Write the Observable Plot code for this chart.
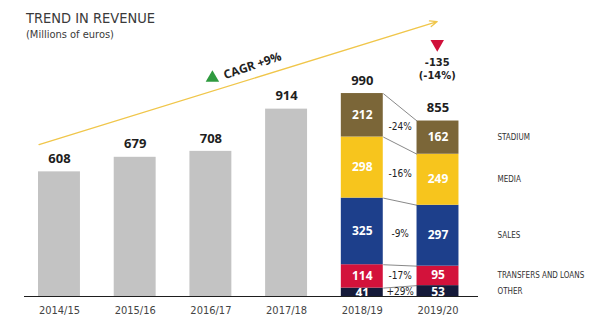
<!DOCTYPE html>
<html>
<head>
<meta charset="utf-8">
<script src="https://cdn.jsdelivr.net/npm/d3@7"></script>
<script src="https://cdn.jsdelivr.net/npm/@observablehq/plot@0.6"></script>
<style>
  html, body { margin: 0; padding: 0; background: #fff; }
  #wrap { position: relative; width: 600px; height: 330px; overflow: hidden; }
  #title { position: absolute; left: 26px; top: 11px; font-family: "Liberation Sans Narrow", "DejaVu Sans Condensed", sans-serif; font-size: 14.5px; color: #3a3a3a; line-height: 1; }
  #subtitle { position: absolute; left: 26px; top: 29px; font-family: "Liberation Sans Narrow", "DejaVu Sans Condensed", sans-serif; font-size: 11px; color: #3a3a3a; line-height: 1; }
  #chart { position: absolute; left: 0; top: 0; }
</style>
</head>
<body>
<div id="wrap">
  <div id="chart"></div>
  <div id="title">TREND IN REVENUE</div>
  <div id="subtitle">(Millions of euros)</div>
</div>
<script>
// ---- data ----
const seasons = ["2014/15", "2015/16", "2016/17", "2017/18", "2018/19", "2019/20"];
const totals = [608, 679, 708, 914, 990, 855];
const categories = ["OTHER", "TRANSFERS AND LOANS", "SALES", "MEDIA", "STADIUM"];
const revenue1819 = [41, 114, 325, 298, 212];
const revenue1920 = [53, 95, 297, 249, 162];
const changes = ["+29%", "-17%", "-9%", "-16%", "-24%"];
const categoryColors = ["#151a3a", "#d3123b", "#1d3f8b", "#f7c51d", "#7b6638"];
const cagrLabel = "CAGR +9%";
const dropValue = "-135";
const dropPct = "(-14%)";
// annotation anchors in data units (x = season index, y = millions of euros)
const cagrArrow = [{x1: -0.27, y1: 741, x2: 4.99, y2: 1341}];
const cagrTextPos = [{x: 2.55, y: 1125}];
const cagrTrianglePos = [{x: 2.02, y: 1066}];
const dropPos = [{x: 4.99, y: 1232}];

// ---- derived tables ----
const hw = 0.277; // half bar width in season units
const grayBars = seasons.slice(0, 4).map((s, i) => ({i, season: s, total: totals[i]}));
function stack(values, i) {
  let acc = 0;
  return values.map((v, j) => {
    const y1 = acc; acc += v;
    return {i, j, cat: categories[j], value: v, y1, y2: acc, mid: (y1 + acc) / 2, color: categoryColors[j]};
  });
}
const seg1819 = stack(revenue1819, 4);
const seg1920 = stack(revenue1920, 5);
const segments = seg1819.concat(seg1920);
const connectors = categories.map((c, j) => ({
  ya: seg1819[j].y2, yb: seg1920[j].y2,
  mid: (seg1819[j].mid + seg1920[j].mid) / 2, change: changes[j]
}));
const totalLabels = seasons.map((s, i) => ({i, total: totals[i]}));

const numFont = "'Open Sans', sans-serif";
const narrowFont = "'Liberation Sans Narrow', 'DejaVu Sans Condensed', sans-serif";

const chart = Plot.plot({
  width: 600,
  height: 330,
  marginLeft: 24,
  marginRight: 122,
  marginTop: 9,
  marginBottom: 34,
  x: {type: "linear", domain: [-0.462, 5.535], axis: null},
  y: {domain: [0, 1400], axis: null},
  style: {fontFamily: numFont, background: "transparent"},
  marks: [
    // CAGR arrow
    Plot.arrow(cagrArrow, {x1: "x1", y1: "y1", x2: "x2", y2: "y2", stroke: "#f0c64a", strokeWidth: 1.3, headLength: 9, headAngle: 45}),
    // gray bars
    Plot.rectY(grayBars, {x1: d => d.i - hw, x2: d => d.i + hw, y1: 0, y2: "total", fill: "#c3c3c3"}),
    // stacked bars
    Plot.rectY(segments, {x1: d => d.i - hw, x2: d => d.i + hw, y1: "y1", y2: "y2", fill: "color"}),
    // connectors
    Plot.link(connectors, {x1: 4 + hw, x2: 5 - hw, y1: "ya", y2: "yb", stroke: "#555", strokeWidth: 0.7}),
    // change labels
    Plot.text(connectors, {x: 4.5, y: "mid", text: "change", fontSize: 10, fill: "#222", fontFamily: narrowFont}),
    // segment values
    Plot.text(segments.filter(d => d.j > 0), {x: "i", y: "mid", text: d => String(d.value), fill: "#fff", fontSize: 12, fontWeight: "bold", lineHeight: 0.9}),
    Plot.text(segments.filter(d => d.j === 0), {x: "i", y: "mid", dy: 1.5, text: d => String(d.value), fill: "#fff", fontSize: 12, fontWeight: "bold", lineHeight: 0.9}),
    // totals
    Plot.text(totalLabels, {x: "i", y: "total", dy: -13, text: d => String(d.total), fill: "#1e1e1e", fontSize: 13, fontWeight: "bold"}),
    // right category labels
    Plot.text(seg1920, {x: 5.535, dx: 19, y: "mid", text: "cat", textAnchor: "start", fontSize: 8, fill: "#333", fontFamily: narrowFont}),
    // x labels
    Plot.text(seasons, {x: (d, i) => i, y: 0, dy: 14, text: d => d, fontSize: 11, fill: "#444", fontFamily: narrowFont}),
    // baseline
    Plot.ruleY([0], {stroke: "#1e1e1e", strokeWidth: 1}),
    // CAGR annotation
    Plot.dot(cagrTrianglePos, {x: "x", y: "y", symbol: "triangle", r: 5, fill: "#2f9a3f", stroke: null}),
    Plot.text(cagrTextPos, {x: "x", y: "y", text: () => cagrLabel, rotate: -19, fontSize: 12, fontWeight: "bold", fill: "#222"}),
    // drop annotation
    Plot.dot(dropPos, {x: "x", y: "y", symbol: "triangle", r: 5, rotate: 180, fill: "#d0103a", stroke: null}),
    Plot.text(dropPos, {x: "x", y: "y", dy: 19, text: () => dropValue, fontSize: 11, fill: "#222", lineHeight: 0.9, fontFamily: narrowFont, fontWeight: "bold"}),
    Plot.text(dropPos, {x: "x", y: "y", dy: 31.5, text: () => dropPct, fontSize: 11, fill: "#222", lineHeight: 0.9, fontFamily: narrowFont, fontWeight: "bold"})
  ]
});
document.getElementById("chart").appendChild(chart);
</script>
</body>
</html>
